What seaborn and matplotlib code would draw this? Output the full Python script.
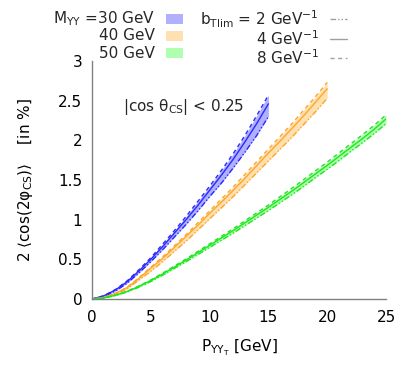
import numpy as np
import pandas as pd
import seaborn as sns
import matplotlib
matplotlib.use("Agg")
import matplotlib.pyplot as plt
from matplotlib.lines import Line2D
from matplotlib.patches import Rectangle

# DATA

x_30 = list(range(0, 16))
y_30_b2 = [0, 0.03, 0.10, 0.20, 0.33, 0.47, 0.62, 0.78, 0.94, 1.11, 1.29, 1.46, 1.65, 1.85, 2.06, 2.30]
y_30_b4 = [0, 0.04, 0.115, 0.22, 0.355, 0.50, 0.66, 0.83, 1.00, 1.18, 1.37, 1.56, 1.76, 1.98, 2.21, 2.46]
y_30_b8 = [0, 0.04, 0.12, 0.23, 0.37, 0.52, 0.69, 0.86, 1.04, 1.23, 1.42, 1.62, 1.83, 2.06, 2.31, 2.57]

x_40 = list(range(0, 21))
y_40_b2 = [0, 0.015, 0.06, 0.13, 0.24, 0.35, 0.47, 0.60, 0.73, 0.87, 1.01, 1.15, 1.29, 1.44, 1.59,
           1.74, 1.89, 2.04, 2.20, 2.36, 2.53]
y_40_b4 = [0, 0.02, 0.07, 0.145, 0.26, 0.39, 0.51, 0.65, 0.79, 0.93, 1.08, 1.22, 1.37, 1.52, 1.68,
           1.84, 1.99, 2.15, 2.31, 2.48, 2.65]
y_40_b8 = [0, 0.02, 0.07, 0.15, 0.27, 0.40, 0.53, 0.67, 0.81, 0.96, 1.11, 1.26, 1.41, 1.57, 1.73,
           1.89, 2.05, 2.21, 2.38, 2.55, 2.73]

x_50 = list(range(0, 26))
y_50_b2 = [0, 0.012, 0.043, 0.09, 0.15, 0.22, 0.30, 0.385, 0.47, 0.56, 0.65, 0.74, 0.83, 0.925, 1.02,
           1.115, 1.215, 1.315, 1.42, 1.53, 1.635, 1.745, 1.86, 1.97, 2.085, 2.21]
y_50_b4 = [0, 0.014, 0.047, 0.096, 0.16, 0.233, 0.315, 0.403, 0.49, 0.584, 0.676, 0.77, 0.862, 0.96, 1.058,
           1.156, 1.258, 1.36, 1.468, 1.577, 1.685, 1.797, 1.91, 2.022, 2.14, 2.27]
y_50_b8 = [0, 0.015, 0.05, 0.10, 0.165, 0.24, 0.325, 0.415, 0.505, 0.60, 0.695, 0.79, 0.885, 0.985, 1.085,
           1.185, 1.29, 1.395, 1.505, 1.615, 1.725, 1.84, 1.955, 2.07, 2.19, 2.32]

masses = ["30", "40", "50"]
b_values = ["2", "4", "8"]

x_ticks = [0, 5, 10, 15, 20, 25]
y_ticks = [0, 0.5, 1, 1.5, 2, 2.5, 3]
y_tick_labels = ["0", "0.5", "1", "1.5", "2", "2.5", "3"]

# STYLE

line_colors = {"30": "#2a2aff", "40": "#ffa629", "50": "#1ee61e"}
fill_colors = {"30": "#b0b0ff", "40": "#ffe0b0", "50": "#b0ffb0"}
dash_styles = {"2": (4, 1.5, 1, 1.5, 1, 1.5), "4": "", "8": (3, 2.5)}

sns.set_theme(style="white")
plt.rcParams["font.family"] = ["DejaVu Sans"]
plt.rcParams["mathtext.fontset"] = "dejavusans"

FS = 11

# LONG FORM TABLE

curves = {
    "30": (x_30, {"2": y_30_b2, "4": y_30_b4, "8": y_30_b8}),
    "40": (x_40, {"2": y_40_b2, "4": y_40_b4, "8": y_40_b8}),
    "50": (x_50, {"2": y_50_b2, "4": y_50_b4, "8": y_50_b8}),
}

rows = []
for m in masses:
    xs, ys = curves[m]
    for b in b_values:
        for xv, yv in zip(xs, ys[b]):
            rows.append({"pt": xv, "val": yv, "mass": m, "b": b})
df = pd.DataFrame(rows)

# PLOT

fig = plt.figure(figsize=(4.15, 3.74), dpi=100)
ax = fig.add_axes([92 / 415, 1 - 299 / 374, 294 / 415, 238 / 374])

for m in masses:
    xs, ys = curves[m]
    ax.fill_between(xs, ys["2"], ys["8"], color=fill_colors[m], linewidth=0, zorder=1)

sns.lineplot(
    data=df,
    x="pt",
    y="val",
    hue="mass",
    style="b",
    palette=line_colors,
    dashes=dash_styles,
    linewidth=1.0,
    errorbar=None,
    legend=False,
    ax=ax,
    zorder=2
)

ax.set_xlim(0, 25)
ax.set_ylim(0, 3)
ax.set_xticks(x_ticks)
ax.set_yticks(y_ticks)
ax.set_yticklabels(y_tick_labels)

for side in ["top", "right"]:
    ax.spines[side].set_visible(False)
for side in ["left", "bottom"]:
    ax.spines[side].set_color("#808080")
    ax.spines[side].set_linewidth(1.0)

ax.tick_params(
    axis="both",
    direction="in",
    length=5,
    width=0.8,
    color="#808080",
    labelsize=FS,
    labelcolor="black"
)
ax.tick_params(axis="x", pad=8)
ax.tick_params(axis="y", pad=7)

ax.set_xlabel(r"P$_{\mathrm{YY_T}}$ [GeV]", fontsize=FS, color="black")
ax.xaxis.set_label_coords(0.5, -0.16)
ax.set_ylabel(r"2 ⟨cos(2φ$_{\mathrm{CS}}$)⟩    [in %]", fontsize=FS, color="black")
ax.yaxis.set_label_coords(-0.195, 0.5)

ax.text(2.6, 2.42, r"|cos θ$_{\mathrm{CS}}$| < 0.25", fontsize=FS, va="center", ha="left")

# LEGEND (gnuplot style: right aligned text, sample on the right)

left_labels = [r"M$_{\mathrm{YY}}$ =30 GeV", "40 GeV", "50 GeV"]
left_rows = [19, 36, 53]
for lab, m, yy in zip(left_labels, masses, left_rows):
    fig.text(155 / 415, 1 - yy / 374, lab, ha="right", va="center", fontsize=FS)
    fig.add_artist(Rectangle(
        (166 / 415, 1 - (yy + 5) / 374), 17 / 415, 10 / 374,
        transform=fig.transFigure, facecolor=fill_colors[m], edgecolor="none"
    ))

right_labels = [r"b$_{\mathrm{Tlim}}$ = 2 GeV$^{\mathrm{-1}}$", r"4 GeV$^{\mathrm{-1}}$", r"8 GeV$^{\mathrm{-1}}$"]
right_rows = [19, 39, 58]
for lab, b, yy in zip(right_labels, b_values, right_rows):
    fig.text(319 / 415, 1 - yy / 374, lab, ha="right", va="center", fontsize=FS)
    ln = Line2D([330 / 415, 347 / 415], [1 - yy / 374, 1 - yy / 374],
                transform=fig.transFigure, color="#a0a0a0", linewidth=1.0)
    if dash_styles[b]:
        ln.set_dashes(dash_styles[b])
    fig.add_artist(ln)

fig.savefig("out.png", dpi=100)
plt.close(fig)
